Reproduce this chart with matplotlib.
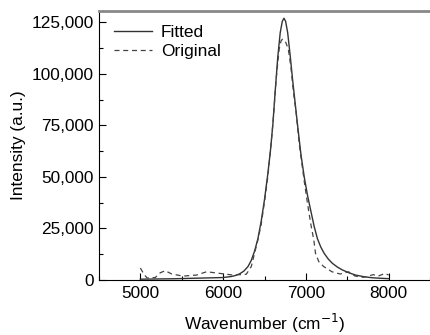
import matplotlib
matplotlib.use("Agg")
import matplotlib.pyplot as plt
from matplotlib.ticker import MultipleLocator, FuncFormatter

plt.rcParams['font.family'] = ['Liberation Sans', 'DejaVu Sans']

fit_x = [5000, 5200, 5400, 5600, 5800, 6000, 6100, 6150, 6200, 6250, 6300, 6340, 6380,
         6420, 6460, 6500, 6540, 6570, 6600, 6630, 6660, 6690, 6715, 6735, 6755, 6780,
         6810, 6840, 6870, 6900, 6940, 6980, 7020, 7060, 7100, 7140, 7180, 7220, 7270,
         7320, 7380, 7440, 7520, 7600, 7700, 7800, 7900, 8000]
fit_y = [400, 500, 600, 800, 1000, 1200, 1700, 2200, 3000, 4300, 6500, 9500, 14000,
         20000, 28500, 39000, 51500, 62000, 75000, 92000, 108000, 120000, 125500, 127000,
         125500, 120000, 109000, 97000, 86000, 75000, 61000, 50000, 41000, 33500, 26000,
         20000, 16000, 13000, 10200, 8100, 6300, 4900, 3500, 2400, 1600, 1100, 850, 650]

orig_x = [5000, 5040, 5080, 5180, 5240, 5300, 5380, 5515, 5680, 5800, 5960, 6120, 6280,
          6340, 6380, 6420, 6460, 6500, 6540, 6580, 6610, 6640, 6677, 6700, 6716, 6750,
          6788, 6820, 6850, 6880, 6920, 6980, 7020, 7060, 7096, 7116, 7156, 7216, 7315,
          7415, 7515, 7595, 7695, 7815, 7875, 7955, 8000]
orig_y = [5800, 3000, 1000, 1200, 3500, 4500, 2900, 1900, 2400, 4000, 3200, 2400, 2800,
          6500, 13000, 19400, 27000, 38000, 50000, 66000, 80000, 97000, 112000, 116000,
          116800, 116000, 112000, 103000, 91000, 82000, 66000, 48000, 37000, 27000, 19400,
          13000, 8900, 6500, 4000, 2900, 4000, 1900, 1300, 2600, 1900, 3200, 2400]

fig = plt.figure(figsize=(4.3, 3.35), dpi=100)
ax = fig.add_axes([99/430, 1-280/335, 1-99/430, (280-11)/335])

ax.plot(fit_x, fit_y, color='#333333', lw=1.0, label='Fitted')
ax.plot(orig_x, orig_y, color='#444444', lw=0.9, ls=(0, (4, 3)), label='Original')

ax.set_xlim(4500, 8500)
ax.set_ylim(0, 130500)
ax.xaxis.set_major_locator(MultipleLocator(1000))
ax.xaxis.set_minor_locator(MultipleLocator(500))
ax.yaxis.set_major_locator(MultipleLocator(25000))
ax.yaxis.set_minor_locator(MultipleLocator(12500))
ax.yaxis.set_major_formatter(FuncFormatter(lambda v, p: f"{int(v):,}"))
ax.tick_params(which='major', direction='in', length=5, width=0.8, labelsize=12.4, pad=4)
ax.tick_params(which='minor', direction='in', length=3, width=0.8)
ax.tick_params(top=False, right=False, which='both')

ax.spines['right'].set_visible(False)
ax.spines['top'].set_color('#888888')
ax.spines['top'].set_linewidth(2)

ax.set_xlabel('Wavenumber (cm$^{-1}$)', fontsize=12.4, labelpad=8)
ax.set_ylabel('Intensity (a.u.)', fontsize=12.4, labelpad=4)

ax.legend(loc='upper left', frameon=False, fontsize=12.4, handlelength=2.2,
          handletextpad=0.5, borderaxespad=0.0, labelspacing=0.25,
          bbox_to_anchor=(0.025, 0.975))

fig.savefig('out.png', dpi=100)
